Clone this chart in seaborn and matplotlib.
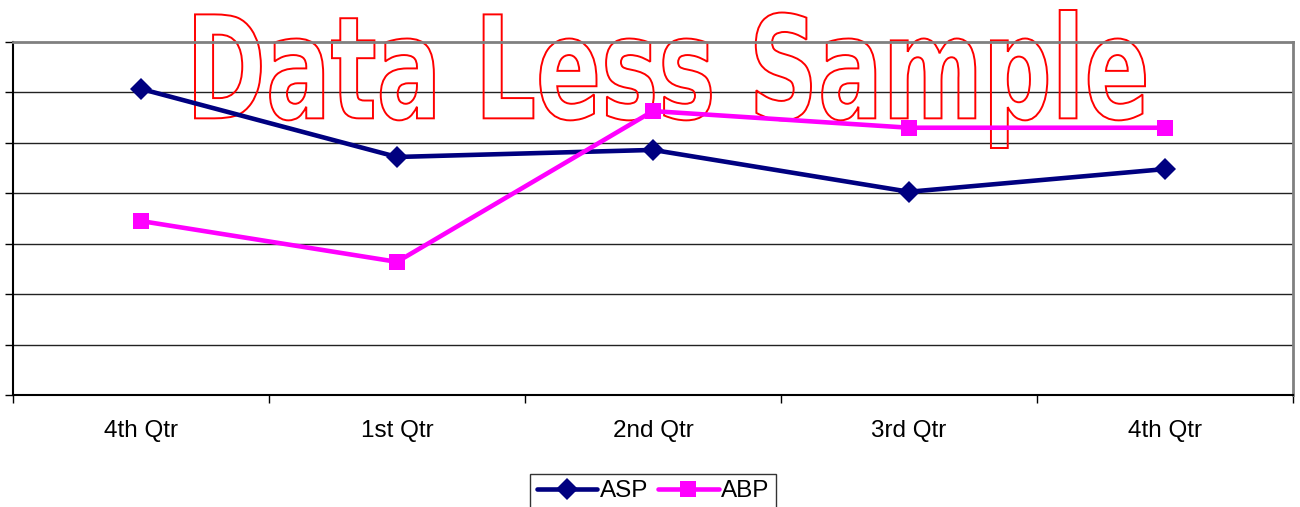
import matplotlib
import numpy as np
import pandas as pd

matplotlib.use('Agg')
import matplotlib.pyplot as plt
import seaborn as sns
from matplotlib.font_manager import FontProperties
from matplotlib.patches import PathPatch
from matplotlib.textpath import TextPath
from matplotlib.transforms import Affine2D, IdentityTransform

quarters = ['4th Qtr', '1st Qtr', '2nd Qtr', '3rd Qtr', '4th Qtr ']
tick_labels = ['4th Qtr', '1st Qtr', '2nd Qtr', '3rd Qtr', '4th Qtr']
asp = [6.07, 4.72, 4.86, 4.03, 4.48]
abp = [3.45, 2.64, 5.63, 5.30, 5.30]
series = ['ASP', 'ABP']
colors = {'ASP': '#000080', 'ABP': '#ff00ff'}
markers = {'ASP': 'D', 'ABP': 's'}

df = pd.DataFrame({
    'x': list(range(len(quarters))) * 2,
    'value': asp + abp,
    'series': ['ASP'] * len(asp) + ['ABP'] * len(abp),
})

sns.set_theme(style='white')
plt.rcParams['font.family'] = ['Liberation Sans', 'DejaVu Sans']
plt.rcParams['text.color'] = 'black'

W, H = 1300, 507
fig = plt.figure(figsize=(W / 100, H / 100), dpi=100)
ax = fig.add_axes([13 / W, 1 - 395 / H, 1280 / W, 353 / H])

for y in range(1, 7):
    ax.axhline(y, color='#222222', lw=1, zorder=1)

# watermark outline text
tp = TextPath((0, 0), 'Data Less Sample',
              prop=FontProperties(family='DejaVu Sans', weight='bold', stretch='condensed'),
              size=100)
ext = tp.get_extents()
sx = (1145 - 195) / ext.width
sy = (497 - 359) / ext.height
trf = Affine2D().translate(-ext.x0, -ext.y0).scale(sx, sy).translate(195, 359)
wm = PathPatch(trf.transform_path(tp), facecolor='none', edgecolor='#ff0000', lw=1.4,
               transform=IdentityTransform(), zorder=2)
ax.add_artist(wm)
wm.set_clip_on(False)

sns.lineplot(data=df, x='x', y='value', hue='series', style='series', palette=colors,
             markers=markers, dashes=False, lw=3.3, markersize=11, markeredgewidth=0,
             ax=ax, legend=False, zorder=3)

ax.set_xlim(-0.5, len(quarters) - 0.5)
ax.set_ylim(0, 7)
ax.set_yticks(range(0, 8))
ax.set_yticklabels([])
ax.set_xticks(np.arange(-0.5, len(quarters), 1.0))
ax.set_xticklabels([])
ax.set_xticks(range(len(quarters)), minor=True)
ax.set_xticklabels(tick_labels, minor=True, fontsize=17.5, color='black')
ax.tick_params(axis='x', which='minor', length=0, pad=18, bottom=True)
ax.tick_params(axis='x', which='major', direction='out', length=6, width=1,
               color='black', bottom=True)
ax.tick_params(axis='y', direction='out', length=6, width=1, color='black', left=True)
ax.set_xlabel('')
ax.set_ylabel('')

for side in ['left', 'bottom']:
    ax.spines[side].set_color('black')
    ax.spines[side].set_linewidth(1.5)
for side in ['top', 'right']:
    ax.spines[side].set_color('#808080')
    ax.spines[side].set_linewidth(2)

handles = [plt.Line2D([], [], color=colors[s], marker=markers[s], lw=3.3, markersize=11,
                      markeredgewidth=0) for s in series]
leg = fig.legend(handles, series, loc='upper center', bbox_to_anchor=(653 / W, 1 - 474 / H),
                 ncol=2, fontsize=17.5, frameon=True, fancybox=False, edgecolor='black',
                 handlelength=2.5, handletextpad=0.1, columnspacing=0.4, borderpad=0.25,
                 borderaxespad=0, labelcolor='black')
leg.get_frame().set_linewidth(1)

fig.savefig('out.png', dpi=100)
